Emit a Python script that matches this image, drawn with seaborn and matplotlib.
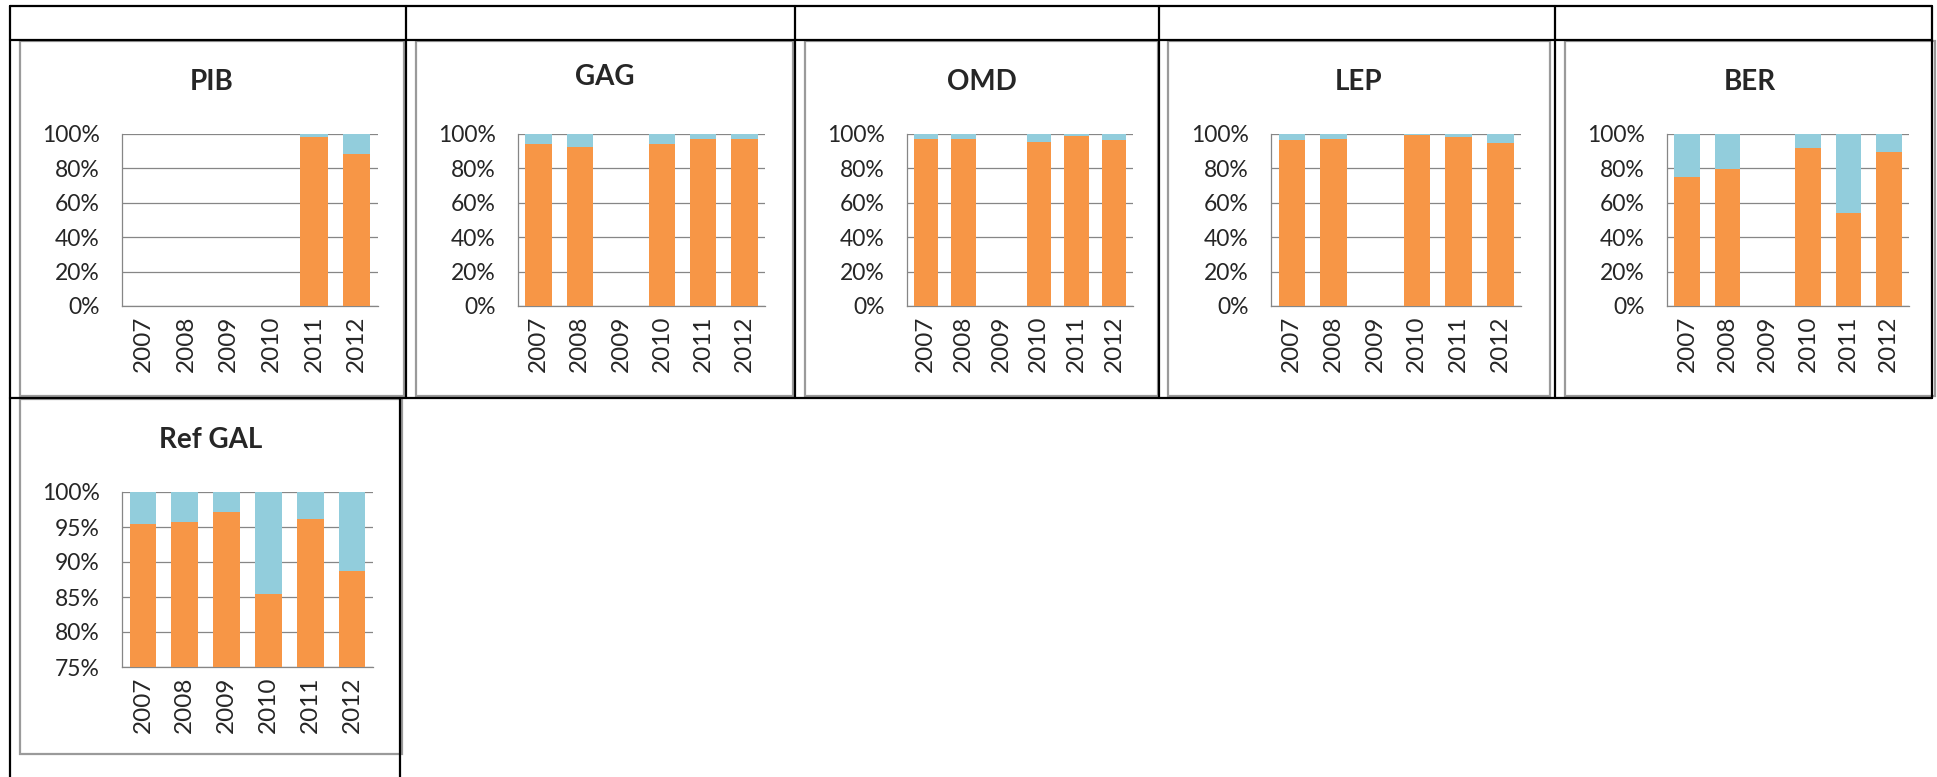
import numpy as np
import pandas as pd
import matplotlib
matplotlib.use("Agg")
import matplotlib.pyplot as plt
import seaborn as sns
from matplotlib.patches import Rectangle
from matplotlib.lines import Line2D
from matplotlib.ticker import PercentFormatter

# share of the orange part for each year (blue = remainder up to 100%)
years = ["2007", "2008", "2009", "2010", "2011", "2012"]
pib = [np.nan, np.nan, np.nan, np.nan, 0.98, 0.885]
gag = [0.94, 0.925, np.nan, 0.94, 0.97, 0.97]
omd = [0.97, 0.97, np.nan, 0.955, 0.987, 0.963]
lep = [0.965, 0.972, np.nan, 0.995, 0.98, 0.95]
ber = [0.748, 0.798, np.nan, 0.92, 0.54, 0.897]
ref_gal = [0.9545, 0.957, 0.971, 0.854, 0.962, 0.887]

titles = ["PIB", "GAG", "OMD", "LEP", "BER", "Ref GAL"]
series = [pib, gag, omd, lep, ber, ref_gal]

ORANGE = "#F79646"
BLUE = "#92CDDC"
GRID = "#868686"

sns.set_style("white")
plt.rcParams["font.family"] = ["Lato", "DejaVu Sans"]

W, H = 1937, 777
fig = plt.figure(figsize=(W / 100, H / 100), dpi=100)


def fx(x):
    return x / W


def fy(y):
    return 1 - y / H


# table grid lines (pixel coords)
def hline(x0, x1, y):
    fig.add_artist(Line2D([fx(x0), fx(x1)], [fy(y), fy(y)], color="black", lw=1.6))


def vline(x, y0, y1):
    fig.add_artist(Line2D([fx(x), fx(x)], [fy(y0), fy(y1)], color="black", lw=1.6))


hline(10, 1932, 6)
hline(10, 1932, 40)
hline(10, 1932, 398)
for x in [10, 406, 795, 1159, 1555, 1932]:
    vline(x, 6, 398)
vline(10, 398, 777)
vline(400, 398, 777)

# chart frames: (left, top, right, bottom)
frames = [
    (20, 41, 404, 396),
    (416, 41, 793, 396),
    (805, 41, 1158, 396),
    (1168, 41, 1550, 396),
    (1565, 41, 1935, 396),
    (20, 399, 402, 754),
]
# plot areas: (left, top, right, bottom)
areas = [
    (122, 134, 378, 306),
    (518, 134, 765, 306),
    (907, 134, 1133, 306),
    (1271, 134, 1521, 306),
    (1667, 134, 1909, 306),
    (122, 492, 373, 667),
]
title_y = [82, 77, 82, 82, 82, 440]

for (l, t, r, b) in frames:
    fig.add_artist(Rectangle((fx(l), fy(b)), fx(r - l), (b - t) / H,
                             transform=fig.transFigure, fill=False,
                             edgecolor="#9a9a9a", lw=1.6))

for i, (name, vals) in enumerate(zip(titles, series)):
    l, t, r, b = areas[i]
    ax = fig.add_axes([fx(l), fy(b), fx(r - l), (b - t) / H])
    df = pd.DataFrame({"year": years, "orange": vals})
    df["total"] = np.where(df["orange"].isna(), np.nan, 1.0)
    sns.barplot(data=df, x="year", y="total", order=years, color=BLUE,
                width=0.64, errorbar=None, saturation=1, linewidth=0,
                ax=ax, zorder=2)
    sns.barplot(data=df, x="year", y="orange", order=years, color=ORANGE,
                width=0.64, errorbar=None, saturation=1, linewidth=0,
                ax=ax, zorder=3)
    ax.set_xlim(-0.5, 5.5)
    if name == "Ref GAL":
        ax.set_ylim(0.75, 1.0)
        ax.set_yticks([0.75, 0.80, 0.85, 0.90, 0.95, 1.0])
    else:
        ax.set_ylim(0, 1.0)
        ax.set_yticks([0, 0.2, 0.4, 0.6, 0.8, 1.0])
    ax.yaxis.set_major_formatter(PercentFormatter(1.0, decimals=0))
    ax.set_xlabel("")
    ax.set_ylabel("")
    ax.grid(axis="y", color=GRID, lw=0.9, zorder=0)
    ax.set_axisbelow(True)
    for s in ["top", "right"]:
        ax.spines[s].set_visible(False)
    for s in ["left", "bottom"]:
        ax.spines[s].set_color(GRID)
        ax.spines[s].set_linewidth(0.9)
    ax.tick_params(axis="y", length=0, pad=16, labelsize=16.5)
    ax.tick_params(axis="x", length=0, pad=7, labelsize=17.5, rotation=90)
    ax.patch.set_alpha(0)
    cx = (frames[i][0] + frames[i][2]) / 2
    fig.text(fx(cx), fy(title_y[i]), name, ha="center", va="center",
             fontsize=20, fontweight="bold")

fig.savefig("out.png", dpi=100)
